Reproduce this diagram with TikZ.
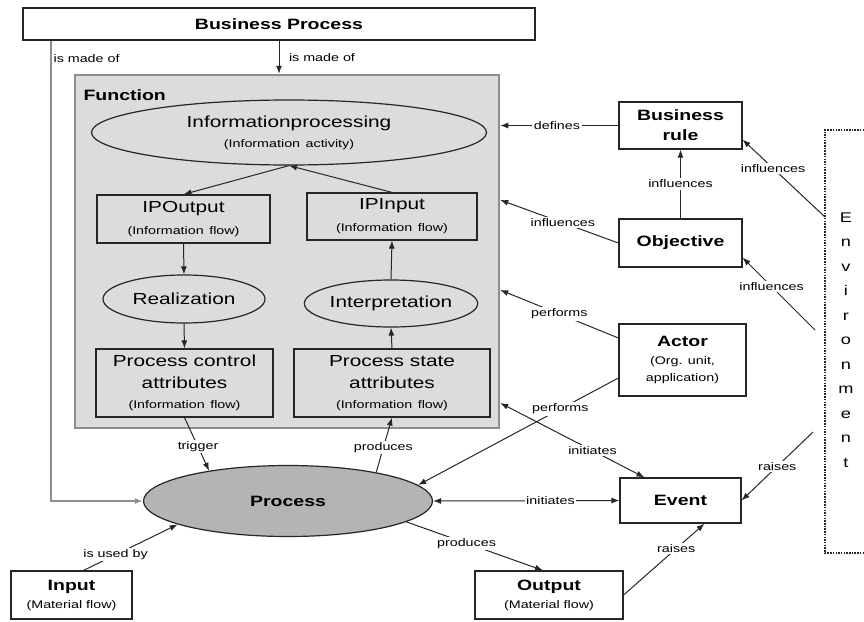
\documentclass[tikz,border=0pt]{standalone}
\usepackage{fontspec}
\setmainfont{Liberation Sans}[FakeStretch=1.3]
\usetikzlibrary{shapes.geometric,arrows.meta}
\definecolor{fngray}{HTML}{DCDCDC}
\definecolor{fnedge}{HTML}{8E8E8E}
\definecolor{procgray}{HTML}{B4B4B4}
\definecolor{ink}{HTML}{262626}
\newcommand\flowline[1]{{\mdseries\fontsize{11}{13}\selectfont #1}}
\tikzset{
  box/.style={draw=ink,line width=1.2pt,inner sep=0pt,align=center},
  titlebox/.style={box,fill=white,font=\bfseries\fontsize{15}{20}\selectfont},
  flowbox/.style={box,font=\fontsize{16}{22}\selectfont},
  oval/.style={ellipse,draw=ink,line width=1.2pt,inner sep=0pt,align=center,font=\fontsize{16}{22}\selectfont},
  rel/.style={draw=ink,line width=1pt,-{Latex[length=8pt,width=6pt]}},
  birel/.style={rel,{Latex[length=8pt,width=6pt]}-{Latex[length=8pt,width=6pt]}},
  lbl/.style={fill=white,inner sep=1.5pt,font=\fontsize{11}{13}\selectfont},
}

\begin{document}
\begin{tikzpicture}[x=1pt,y=-1pt]
\useasboundingbox (0,0) rectangle (864,621);
\node[titlebox,minimum width=512pt,minimum height=32pt] (bp) at (279,24) {Business Process};
\node[draw=fnedge,line width=2.5pt,fill=fngray,minimum width=424pt,minimum height=353pt,inner sep=0pt] (fn) at (287,251.5) {};
\node[anchor=west,font=\bfseries\fontsize{15}{20}\selectfont] (fnlbl) at (80,95) {Function};
\node[oval,minimum width=395pt,minimum height=65pt] (ip) at (289,132.5) {Informationprocessing\\[-2pt]\flowline{(Information\enspace activity)}};
\node[flowbox,minimum width=173pt,minimum height=48pt] (ipout) at (183.5,219) {IPOutput\\\flowline{(Information\enspace flow)}};
\node[flowbox,minimum width=170pt,minimum height=47pt] (ipin) at (392,216.5) {IPInput\\\flowline{(Information\enspace flow)}};
\node[oval,minimum width=162pt,minimum height=48pt] (real) at (184,299) {Realization};
\node[oval,minimum width=164pt,minimum height=47pt] (interp) at (391,303.5) {Interpretation};
\node[flowbox,minimum width=177pt,minimum height=68pt] (pca) at (184.5,383) {Process control\\attributes\\[-2pt]\flowline{(Information\enspace flow)}};
\node[flowbox,minimum width=196pt,minimum height=68pt] (psa) at (392,383) {Process state\\attributes\\[-2pt]\flowline{(Information\enspace flow)}};
\node[oval,fill=procgray,minimum width=289pt,minimum height=71pt,font=\bfseries\fontsize{15}{20}\selectfont] (proc) at (288,501) {Process};
\node[titlebox,minimum width=123pt,minimum height=47pt] (br) at (680.5,125.5) {Business\\rule};
\node[titlebox,minimum width=123pt,minimum height=48pt] (obj) at (680.5,243) {Objective};
\node[titlebox,minimum width=127pt,minimum height=72pt] (actor) at (682.5,360) {Actor\\[-2pt]\flowline{(Org. unit,}\\[-3pt]\flowline{application)}};
\node[titlebox,minimum width=121pt,minimum height=45pt] (event) at (680.5,500.5) {Event};
\node[titlebox,minimum width=121pt,minimum height=48pt] (inp) at (71.5,595) {Input\\[-2pt]\flowline{(Material flow)}};
\node[titlebox,minimum width=148pt,minimum height=48pt] (outp) at (549,595) {Output\\[-2pt]\flowline{(Material flow)}};
\draw[ink,line width=1.2pt,dash pattern=on 1.5pt off 1.2pt] (864,130) -- (825,130) -- (825,553) -- (864,553);
\node[align=center,font=\fontsize{14}{24.5}\selectfont] (envtxt) at (846,340) {E\\n\\v\\i\\r\\o\\n\\m\\e\\n\\t};
\coordinate (envbr) at (825,217);
\coordinate (envobj) at (815,330);
\coordinate (envev) at (813,432);
\draw[rel,draw=fnedge,line width=2.2pt] (bp.south -| 51,0) |- (proc.west) node[lbl,fill=none,anchor=west,pos=0.02] {is made of};
\draw[rel] (bp.south) -- (fn.north -| bp.south) node[lbl,fill=none,anchor=west,midway,xshift=8pt] {is made of};
\draw[rel] (ip.south) -- (ipout.north);
\draw[rel] (ipin.north) -- (ip.south);
\draw[rel] (ipout.south) -- (real.north);
\draw[rel] (real.south) -- (pca.north);
\draw[rel] (psa.north) -- (interp.south);
\draw[rel] (interp.north) -- (ipin.south);
\draw[rel] (br.west) -- (fn.east |- br.west) node[lbl,pos=0.52] {defines};
\draw[rel] (obj.west) -- (fn.east |- 0,200) node[lbl,pos=0.47] {influences};
\draw[rel] (obj.north) -- (br.south) node[lbl,midway] {influences};
\draw[rel] ([yshift=22pt]actor.west) -- (fn.east |- 0,290) node[lbl,pos=0.5] {performs};
\draw[rel] ([yshift=-18pt]actor.west) -- (proc.7) node[lbl,pos=0.29] {performs};
\draw[birel] (fn.east |- 0,403) -- ([xshift=25pt]event.north west) node[lbl,pos=0.64] {initiates};
\draw[birel] (proc.east) -- (event.west) node[lbl,pos=0.63] {initiates};
\draw[rel] (envbr) -- ([yshift=10pt]br.south east) node[lbl,pos=0.63] {influences};
\draw[rel] (envobj) -- ([yshift=10pt]obj.south east) node[lbl,pos=0.6] {influences};
\draw[rel] (envev) -- (event.east) node[lbl,pos=0.5] {raises};
\draw[rel] (outp.east) -- ([xshift=24pt]event.south) node[lbl,pos=0.65] {raises};
\draw[rel] (proc.-10) -- ([xshift=-6pt]outp.north) node[lbl,pos=0.44] {produces};
\draw[rel] ([xshift=12pt]inp.north) -- (proc.192) node[lbl,pos=0.34] {is used by};
\draw[rel] (pca.south) -- (proc.159) node[lbl,pos=0.55] {trigger};
\draw[rel] (proc.18) -- (psa.south) node[lbl,pos=0.45] {produces};
\end{tikzpicture}
\end{document}
